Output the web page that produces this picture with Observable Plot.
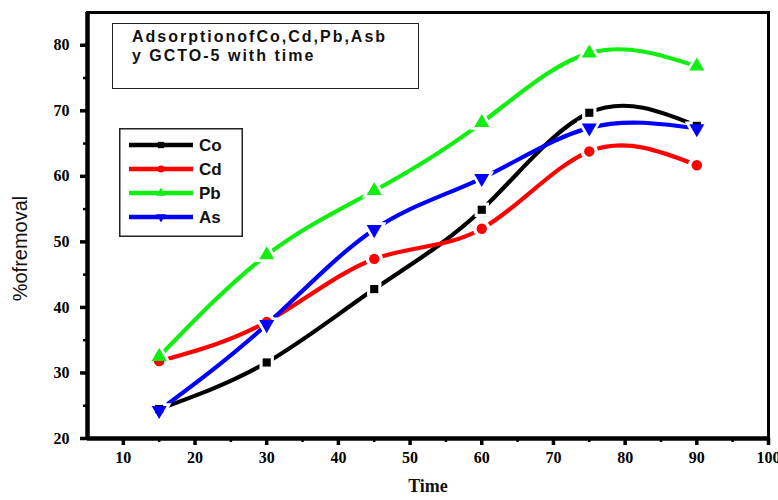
<!DOCTYPE html>
<html><head><meta charset="utf-8">
<script src="https://cdn.jsdelivr.net/npm/d3@7"></script>
<script src="https://cdn.jsdelivr.net/npm/@observablehq/plot@0.6"></script>
<style>
body{margin:0;background:#fff;}
#wrap{position:relative;width:778px;height:500px;overflow:hidden;}
#wrap svg.plot{position:absolute;left:0;top:0;}
#title{position:absolute;left:112px;top:23px;width:307px;height:66px;border:1.5px solid #222;background:#fff;
  font-family:"Liberation Sans",Arial,sans-serif;font-weight:bold;font-size:16px;letter-spacing:2px;line-height:19px;color:#111;
  padding:0;box-sizing:border-box;}
#title div{margin-left:19px;}
#legend{position:absolute;left:119px;top:128px;}
</style></head><body><div id="wrap"></div>
<script>
const times = [15, 30, 45, 60, 75, 90];
const seriesNames = ["Co", "Cd", "Pb", "As"];
const coValues = [24.5, 31.6, 42.8, 54.9, 69.7, 67.7];
const cdValues = [31.8, 37.8, 47.4, 52.0, 63.8, 61.7];
const pbValues = [32.5, 48.0, 57.8, 68.2, 78.8, 76.8];
const asValues = [24.3, 37.4, 51.9, 59.7, 67.4, 67.3];
const seriesColors = ["#000000", "#ff0000", "#11ee11", "#0000ff"];
const xMajorTicks = [10, 20, 30, 40, 50, 60, 70, 80, 90, 100];
const xMinorTicks = [15, 25, 35, 45, 55, 65, 75, 85, 95];
const yMajorTicks = [20, 30, 40, 50, 60, 70, 80];
const yMinorTicks = [25, 35, 45, 55, 65, 75];
const titleLines = ["AdsorptionofCo,Cd,Pb,Asb", "y GCTO-5 with time"];
const xLabel = "Time";
const yLabel = "%ofremoval";

const triDown = {
  draw(ctx, size) {
    const y = -Math.sqrt(size / (Math.sqrt(3) * 3));
    ctx.moveTo(0, -y * 2);
    ctx.lineTo(-Math.sqrt(3) * y, y);
    ctx.lineTo(Math.sqrt(3) * y, y);
    ctx.closePath();
  }
};
const seriesSymbols = [d3.symbolSquare, d3.symbolCircle, d3.symbolTriangle, triDown];
const seriesR = [4.6, 5.2, 5.6, 5.6];

const allValues = [coValues, cdValues, pbValues, asValues];
const data = [];
seriesNames.forEach((s, i) => times.forEach((t, j) => data.push({series: s, time: t, value: allValues[i][j], idx: i})));

const serif = "Liberation Serif, Times New Roman, serif";

const marks = [
  Plot.frame({stroke: "black", strokeWidth: 3}),
  Plot.ruleX([5], {stroke: "black", strokeWidth: 4.5}),
  Plot.ruleY([20], {stroke: "black", strokeWidth: 4.5}),
  Plot.axisX({ticks: xMajorTicks, tickSize: 7, strokeWidth: 3.5, tickPadding: 6, label: null,
    fontFamily: serif, fontWeight: "bold", fontSize: 16, tickFormat: d => d}),
  Plot.axisX({ticks: xMinorTicks, tickSize: 4, strokeWidth: 2.5, text: null, label: null}),
  Plot.axisY({ticks: yMajorTicks, tickSize: 7, strokeWidth: 3.5, tickPadding: 11, label: null,
    fontFamily: serif, fontWeight: "bold", fontSize: 16, tickFormat: d => d}),
  Plot.axisY({ticks: yMinorTicks, tickSize: 4, strokeWidth: 2.5, text: null, label: null}),
];
seriesNames.forEach((s, i) => {
  const d = data.filter(e => e.series === s);
  marks.push(Plot.line(d, {x: "time", y: "value", stroke: seriesColors[i], strokeWidth: 4.2, curve: "natural"}));
});
seriesNames.forEach((s, i) => {
  const d = data.filter(e => e.series === s);
  marks.push(Plot.dot(d, {x: "time", y: "value", r: seriesR[i] + 3.5, symbol: () => seriesSymbols[i], fill: "white", stroke: "none"}));
});
seriesNames.forEach((s, i) => {
  const d = data.filter(e => e.series === s);
  marks.push(Plot.dot(d, {x: "time", y: "value", r: seriesR[i], symbol: () => seriesSymbols[i], fill: seriesColors[i], stroke: "none"}));
});
marks.push(Plot.text([xLabel], {frameAnchor: "bottom", dy: 53, text: d => d, fontFamily: serif, fontWeight: "bold", fontSize: 18, fill: "#111"}));
marks.push(Plot.text([yLabel], {frameAnchor: "left", dx: -67, dy: 23, rotate: -90, textAnchor: "middle", text: d => d,
  fontFamily: "Liberation Sans Narrow, Liberation Sans, Arial, sans-serif", fontSize: 20, fill: "#111"}));

const chart = Plot.plot({
  width: 778, height: 500,
  marginLeft: 87, marginRight: 10, marginTop: 12, marginBottom: 62,
  x: {domain: [5, 100]},
  y: {domain: [20, 85]},
  style: {background: "white", overflow: "visible"},
  marks
});
const wrap = document.getElementById("wrap");
wrap.appendChild(chart);

// title box
const tb = document.createElement("div");
tb.id = "title";
tb.innerHTML = `<div style="padding-top:3px">${titleLines[0]}</div><div>${titleLines[1]}</div>`;
wrap.appendChild(tb);

// legend
const lw = 124, lh = 109;
const lsvg = d3.select(wrap).append("svg").attr("id", "legend").attr("width", lw).attr("height", lh);
lsvg.append("rect").attr("x", 0.75).attr("y", 0.75).attr("width", lw - 1.5).attr("height", lh - 1.5)
  .attr("fill", "white").attr("stroke", "#222").attr("stroke-width", 1.5);
seriesNames.forEach((s, i) => {
  const y = 17 + i * 24;
  lsvg.append("line").attr("x1", 10).attr("x2", 74).attr("y1", y).attr("y2", y)
    .attr("stroke", seriesColors[i]).attr("stroke-width", 4.5);
  lsvg.append("path").attr("d", d3.symbol(seriesSymbols[i], 40)()).attr("transform", `translate(42,${y})`)
    .attr("fill", seriesColors[i]);
  lsvg.append("text").attr("x", 80).attr("y", y).attr("dy", "0.36em").text(s)
    .attr("font-family", "Liberation Sans, Arial, sans-serif").attr("font-weight", "bold").attr("font-size", 17)
    .attr("fill", "#111");
});
</script></body></html>
